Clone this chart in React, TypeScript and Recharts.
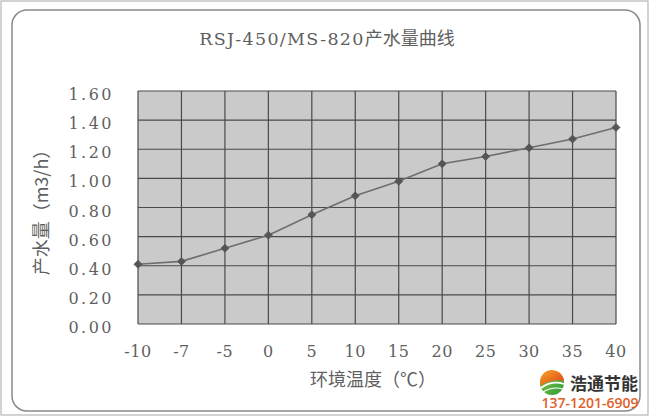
import React from 'react';
import { LineChart, Line, XAxis, YAxis, CartesianGrid } from 'recharts';

const temperatures = ['-10', '-7', '-5', '0', '5', '10', '15', '20', '25', '30', '35', '40'];
const waterOutput = [0.41, 0.43, 0.52, 0.61, 0.75, 0.88, 0.98, 1.1, 1.15, 1.21, 1.27, 1.35];
const yTicks = [0, 0.2, 0.4, 0.6, 0.8, 1.0, 1.2, 1.4, 1.6];
const titleLatin = 'RSJ-450/MS-820';
const titleCjk = '产水量曲线';
const xLabel = '环境温度（℃）';
const yLabel = '产水量（m3/h）';
const brandName = '浩通节能';
const brandPhone = '137-1201-6909';

const data = temperatures.map((t, i) => ({ t, v: waterOutput[i] }));

const SERIF = 'DejaVu Serif, Liberation Serif, serif';
const CJK = 'Noto Sans CJK SC, sans-serif';
const TEXT = '#5f5f5f';

const YTick = (props: any) => {
  const { x, y, payload } = props;
  return (
    <text x={x} y={y} dy={9} textAnchor="end" fontFamily={SERIF} fontSize={16} fill={TEXT} letterSpacing={2.5}>
      {Number(payload.value).toFixed(2)}
    </text>
  );
};

const XTick = (props: any) => {
  const { x, y, payload } = props;
  return (
    <text x={x} y={y} dy={33} textAnchor="middle" fontFamily={SERIF} fontSize={16} fill={TEXT} letterSpacing={0.5}>
      {payload.value}
    </text>
  );
};

const Dot = (props: any) => {
  const { cx, cy, index } = props;
  if (cx == null || cy == null) return null;
  const r = 4;
  return (
    <polygon
      key={`d${index}`}
      points={`${cx},${cy - r} ${cx + r},${cy} ${cx},${cy + r} ${cx - r},${cy}`}
      fill="#555555"
      stroke="#555555"
      strokeWidth={0.8}
    />
  );
};

export default function App() {
  return (
    <div style={{ position: 'absolute', left: 0, top: 0, width: 650, height: 417, background: '#ffffff' }}>
      <LineChart width={650} height={417} data={data} margin={{ top: 91, right: 34, bottom: 0, left: 0 }}>
        <CartesianGrid fill="#cacaca" stroke="#4a4a4a" strokeWidth={1.2} fillOpacity={1} />
        <XAxis
          dataKey="t"
          type="category"
          height={93}
          tickLine={false}
          axisLine={false}
          tickSize={0}
          tickMargin={0}
          interval={0}
          tick={<XTick />}
        />
        <YAxis
          width={138}
          domain={[0, 1.6]}
          ticks={yTicks}
          tickLine={false}
          axisLine={false}
          tickSize={0}
          tickMargin={24}
          interval={0}
          tick={<YTick />}
        />
        <Line
          type="linear"
          dataKey="v"
          stroke="#6e6e6e"
          strokeWidth={1.6}
          dot={<Dot />}
          activeDot={false}
          isAnimationActive={false}
        />
      </LineChart>
      <svg width={650} height={417} style={{ position: 'absolute', left: 0, top: 0, pointerEvents: 'none' }}>
        <defs>
          <linearGradient id="ballTop" x1="0" y1="0" x2="1" y2="1">
            <stop offset="0%" stopColor="#f5a623" />
            <stop offset="100%" stopColor="#e0401a" />
          </linearGradient>
          <linearGradient id="ballBottom" x1="0" y1="0" x2="1" y2="1">
            <stop offset="0%" stopColor="#8cc63f" />
            <stop offset="100%" stopColor="#2e9b3a" />
          </linearGradient>
        </defs>
        <rect x={1} y={1} width={647} height={414} fill="none" stroke="#a8a8a8" strokeWidth={1} />
        <rect x={12} y={10} width={628} height={401} rx={15} ry={15} fill="none" stroke="#8a8a8a" strokeWidth={1.5} />
        <text x={327} y={45} textAnchor="middle" fill={TEXT}>
          <tspan fontFamily={SERIF} fontSize={17.5} letterSpacing={1.3}>{titleLatin}</tspan>
          <tspan fontFamily={CJK} fontSize={18}>{titleCjk}</tspan>
        </text>
        <text x={373} y={386} textAnchor="middle" fontFamily={CJK} fontSize={18} fill={TEXT}>
          {xLabel}
        </text>
        <text
          x={0}
          y={0}
          transform="translate(48 208) rotate(-90)"
          textAnchor="middle"
          fontFamily={CJK}
          fontSize={18}
          fill={TEXT}
        >
          {yLabel}
        </text>
        <g>
          <circle cx={552} cy={383} r={12} fill="url(#ballBottom)" />
          <path d="M540,383 A12,12 0 0 1 564,381 Q552,378 540,386 Z" fill="url(#ballTop)" />
          <path d="M541,388 Q552,380 564,384" fill="none" stroke="#ffffff" strokeWidth={1.6} />
          <path d="M543,392 Q553,386 563,389" fill="none" stroke="#ffffff" strokeWidth={1.2} />
        </g>
        <text x={604} y={390} textAnchor="middle" fontFamily={CJK} fontWeight={700} fontSize={17} fill="#333333">
          {brandName}
        </text>
        <text x={590} y={408} textAnchor="middle" fontFamily={'Open Sans, Noto Sans, sans-serif'} fontWeight={600} fontSize={14} fill="#e2602a">
          {brandPhone}
        </text>
      </svg>
    </div>
  );
}
